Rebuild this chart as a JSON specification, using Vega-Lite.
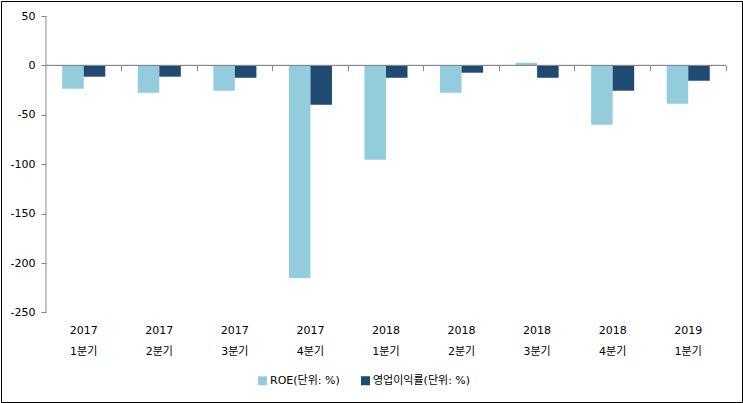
{
  "$schema": "https://vega.github.io/schema/vega-lite/v6.json",
  "width": 741,
  "height": 401,
  "padding": {"left": 1, "top": 1, "right": 1, "bottom": 1},
  "background": "#ffffff",
  "config": {
    "view": {"stroke": "#000000", "strokeWidth": 1},
    "font": "DejaVu Sans, Noto Sans CJK KR",
    "axis": {
      "labelFont": "DejaVu Sans, Noto Sans CJK KR",
      "labelFontSize": 11,
      "labelColor": "#000000",
      "domainColor": "#868686",
      "tickColor": "#868686",
      "grid": false,
      "title": null
    },
    "legend": {
      "labelFont": "DejaVu Sans, Noto Sans CJK KR",
      "labelFontSize": 11,
      "labelColor": "#000000"
    }
  },
  "data": {
    "values": [
      {"q": "2017|1분기", "s": "ROE(단위: %)", "v": -23.6},
      {"q": "2017|1분기", "s": "영업이익률(단위: %)", "v": -11.4},
      {"q": "2017|2분기", "s": "ROE(단위: %)", "v": -27.7},
      {"q": "2017|2분기", "s": "영업이익률(단위: %)", "v": -11.4},
      {"q": "2017|3분기", "s": "ROE(단위: %)", "v": -25.6},
      {"q": "2017|3분기", "s": "영업이익률(단위: %)", "v": -12.5},
      {"q": "2017|4분기", "s": "ROE(단위: %)", "v": -215.0},
      {"q": "2017|4분기", "s": "영업이익률(단위: %)", "v": -39.8},
      {"q": "2018|1분기", "s": "ROE(단위: %)", "v": -95.5},
      {"q": "2018|1분기", "s": "영업이익률(단위: %)", "v": -12.5},
      {"q": "2018|2분기", "s": "ROE(단위: %)", "v": -27.7},
      {"q": "2018|2분기", "s": "영업이익률(단위: %)", "v": -7.4},
      {"q": "2018|3분기", "s": "ROE(단위: %)", "v": 2.7},
      {"q": "2018|3분기", "s": "영업이익률(단위: %)", "v": -12.5},
      {"q": "2018|4분기", "s": "ROE(단위: %)", "v": -60.0},
      {"q": "2018|4분기", "s": "영업이익률(단위: %)", "v": -25.6},
      {"q": "2019|1분기", "s": "ROE(단위: %)", "v": -38.8},
      {"q": "2019|1분기", "s": "영업이익률(단위: %)", "v": -15.5}
    ]
  },
  "layer": [
    {
      "mark": {"type": "bar"},
      "encoding": {
        "x": {
          "field": "q",
          "type": "nominal",
          "scale": {"paddingInner": 0.43, "paddingOuter": 0.6184, "align": 0.655},
          "axis": {
            "orient": "bottom",
            "offset": -78,
            "domain": false,
            "ticks": false,
            "tickSize": 0,
            "labelPadding": 0,
            "labelAngle": 0,
            "labelBaseline": "top",
            "labelLineHeight": 21,
            "labelExpr": "split(datum.label, '|')"
          }
        },
        "xOffset": {
          "field": "s",
          "type": "nominal",
          "sort": ["ROE(단위: %)", "영업이익률(단위: %)"],
          "scale": {"paddingInner": 0, "paddingOuter": 0}
        },
        "y": {
          "field": "v",
          "type": "quantitative",
          "scale": {"domain": [-340.56, 65.18], "nice": false, "zero": false},
          "axis": {
            "orient": "left",
            "offset": -45,
            "values": [-250, -200, -150, -100, -50, 0, 50],
            "domain": false,
            "ticks": true,
            "tickSize": 5,
            "labelPadding": 6,
            "labelExpr": "datum.value + ''"
          }
        },
        "color": {
          "field": "s",
          "type": "nominal",
          "sort": ["ROE(단위: %)", "영업이익률(단위: %)"],
          "scale": {"domain": ["ROE(단위: %)", "영업이익률(단위: %)"], "range": ["#93CDDD", "#1F4A72"]},
          "legend": {
            "title": null,
            "orient": "none",
            "direction": "horizontal",
            "legendX": 256,
            "legendY": 374,
            "symbolType": "square",
            "symbolSize": 81,
            "symbolStrokeWidth": 0,
            "labelOffset": 2,
            "columnPadding": 20
          }
        }
      }
    },
    {
      "mark": {"type": "rule", "color": "#868686", "strokeWidth": 1},
      "encoding": {
        "x": {
          "field": "q",
          "type": "nominal",
          "bandPosition": -0.3773,
          "axis": {
            "orient": "bottom",
            "offset": -336.6,
            "domain": false,
            "labels": false,
            "ticks": true,
            "tickSize": 5,
            "bandPosition": 1.3773
          }
        },
        "x2": {"field": "q", "bandPosition": 1.3773},
        "y": {"datum": 0, "type": "quantitative"}
      }
    },
    {
      "data": {"values": [{"a": 1}]},
      "mark": {"type": "rule", "color": "#868686", "strokeWidth": 1},
      "encoding": {
        "x": {"datum": "2017|1분기", "type": "nominal", "bandPosition": -0.3773, "axis": null},
        "y": {"datum": -250, "type": "quantitative"},
        "y2": {"datum": 50}
      }
    }
  ],
  "resolve": {"axis": {"x": "independent"}}
}
